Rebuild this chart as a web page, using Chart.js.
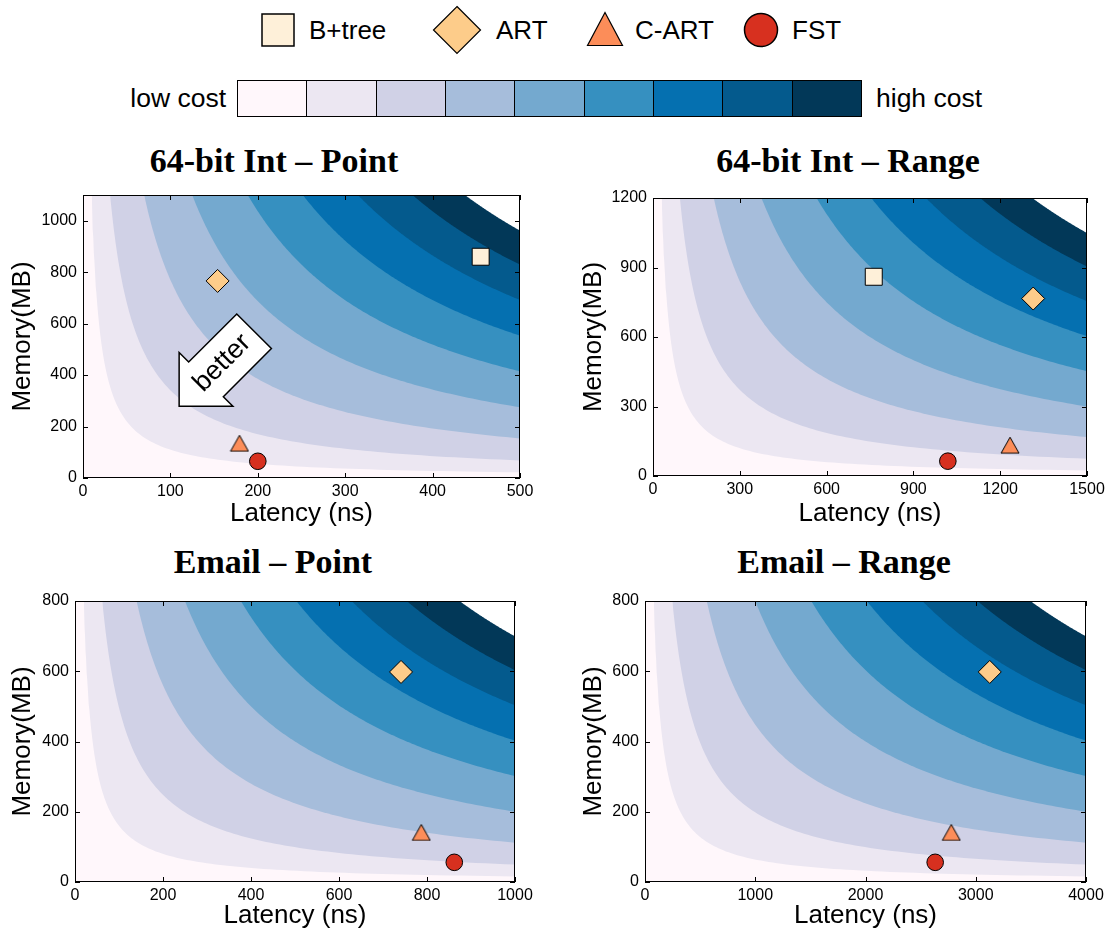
<!DOCTYPE html>
<html>
<head>
<meta charset="utf-8">
<title>Index structures: latency vs. memory cost</title>
<script src="https://cdn.jsdelivr.net/npm/chart.js@4.4.1/dist/chart.umd.min.js"></script>
<style>
  html, body { margin: 0; padding: 0; background: #fff; }
  #fig { position: relative; width: 1109px; height: 937px; overflow: hidden;
         font-family: "Liberation Sans", Arial, Helvetica, sans-serif; color: #000; }
  #fig canvas { position: absolute; }
  .title { position: absolute; transform: translateX(-50%); white-space: nowrap;
           font-family: "Liberation Serif", "Times New Roman", serif; font-weight: bold;
           font-size: 34px; line-height: 34px; }
  .glyph { position: absolute; display: block; }
  .keytext { position: absolute; white-space: nowrap; font-size: 26px; line-height: 26px; }
  #bar { position: absolute; left: 237px; top: 80px; width: 625px; height: 37px; display: flex;
         border: 1px solid #000; box-sizing: border-box; }
  #bar div { flex: 1; border-left: 1px solid #000; }
  #bar div:first-child { border-left: none; }
  .barlabel { position: absolute; top: 83px; font-size: 26.5px; line-height: 30px; white-space: nowrap; }
</style>
</head>
<body>
<div id="fig">
  <div id="bar"></div>
  <div class="barlabel" style="right:883px">low cost</div>
  <div class="barlabel" style="left:876px">high cost</div>
</div>
<script>
// ---------------------------------------------------------------
// Data
// ---------------------------------------------------------------
const structures = ['B+tree', 'ART', 'C-ART', 'FST'];

// 64-bit integer keys, point queries
const intPointLatency = [455, 154, 179, 200];      // ns
const intPointMemory  = [860, 766, 135, 65];       // MB
// 64-bit integer keys, range queries
const intRangeLatency = [763, 1314, 1234, 1019];
const intRangeMemory  = [860, 766, 133, 64];
// email keys, point queries (B+tree lies outside the plotted window)
const emailPointLatency = [null, 741, 787, 862];
const emailPointMemory  = [null, 598, 141, 56];
// email keys, range queries
const emailRangeLatency = [null, 3127, 2778, 2632];
const emailRangeMemory  = [null, 598, 141, 56];

// axis ticks and limits
const intPointXTicks   = [0, 100, 200, 300, 400, 500];
const intPointYTicks   = [0, 200, 400, 600, 800, 1000];
const intPointYMax     = 1100;
const intRangeXTicks   = [0, 300, 600, 900, 1200, 1500];
const intRangeYTicks   = [0, 300, 600, 900, 1200];
const emailPointXTicks = [0, 200, 400, 600, 800, 1000];
const emailPointYTicks = [0, 200, 400, 600, 800];
const emailRangeXTicks = [0, 1000, 2000, 3000, 4000];
const emailRangeYTicks = [0, 200, 400, 600, 800];

// cost = latency x memory; band edges as a share of the panel's
// largest cost (right-hand top corner of the plotted window)
const costLevels = [0.02, 0.062, 0.14, 0.25, 0.377, 0.503, 0.629, 0.754, 0.874];

// ---------------------------------------------------------------
// Styles
// ---------------------------------------------------------------
const baseColor  = '#fff7fb';
const bandColors = ['#ece7f2', '#d0d1e6', '#a6bddb', '#74a9cf', '#3690c0',
                    '#0570b0', '#045a8d', '#023858', '#ffffff'];
const scaleColors = ['#fff7fb', '#ece7f2', '#d0d1e6', '#a6bddb', '#74a9cf',
                     '#3690c0', '#0570b0', '#045a8d', '#023858'];
const markerColors = ['#fef0d9', '#fdcc8a', '#fc8d59', '#d7301f'];
const SANS = '"Liberation Sans", Arial, Helvetica, sans-serif';

function triangleGlyph(w, h, fill) {
  const c = document.createElement('canvas');
  c.width = w + 2; c.height = h + 2;
  const g = c.getContext('2d');
  g.beginPath();
  g.moveTo(1, h + 1); g.lineTo(w + 1, h + 1); g.lineTo(1 + w / 2, 1);
  g.closePath();
  g.fillStyle = fill; g.fill();
  g.lineWidth = 1; g.strokeStyle = '#000'; g.stroke();
  return c;
}
const markerStyles = ['rect', 'rectRot', triangleGlyph(18, 16, markerColors[2]), 'circle'];
const markerRadius = [12, 11.5, 10, 8.3];

// ---------------------------------------------------------------
// Header: marker key and cost scale
// ---------------------------------------------------------------
const fig = document.getElementById('fig');
const keyGlyphs = [
  { left: 261, top: 13, svg: '<svg width="34" height="34"><rect x="1" y="1" width="32" height="32" fill="COLOR" stroke="#000" stroke-width="1.5"/></svg>' },
  { left: 432, top: 5,  svg: '<svg width="50" height="50"><polygon points="25,1.5 48.5,25 25,48.5 1.5,25" fill="COLOR" stroke="#000" stroke-width="1.2"/></svg>' },
  { left: 586, top: 11, svg: '<svg width="38" height="36"><polygon points="19,1.5 36.5,34.5 1.5,34.5" fill="COLOR" stroke="#000" stroke-width="1.2"/></svg>' },
  { left: 743, top: 12, svg: '<svg width="36" height="36"><circle cx="18" cy="18" r="16.5" fill="COLOR" stroke="#000" stroke-width="1.5"/></svg>' }
];
const keyTextLeft = [309, 496, 635, 792];
structures.forEach((name, i) => {
  const g = document.createElement('div');
  g.className = 'glyph';
  g.style.left = keyGlyphs[i].left + 'px';
  g.style.top = keyGlyphs[i].top + 'px';
  g.innerHTML = keyGlyphs[i].svg.replace('COLOR', markerColors[i]);
  fig.appendChild(g);
  const t = document.createElement('div');
  t.className = 'keytext';
  t.style.left = keyTextLeft[i] + 'px';
  t.style.top = '17px';
  t.textContent = name;
  fig.appendChild(t);
});
const bar = document.getElementById('bar');
scaleColors.forEach(c => {
  const d = document.createElement('div');
  d.style.background = c;
  bar.appendChild(d);
});

// ---------------------------------------------------------------
// Plugins
// ---------------------------------------------------------------
// lowest-cost colour under every band
const plotBackground = {
  id: 'plotBackground',
  beforeDraw(chart) {
    const { ctx, chartArea: a } = chart;
    ctx.save();
    ctx.fillStyle = baseColor;
    ctx.fillRect(a.left, a.top, a.right - a.left, a.bottom - a.top);
    ctx.restore();
  }
};

// box frame with inward ticks on all four sides
const frameTicks = {
  id: 'frameTicks',
  afterDraw(chart) {
    const { ctx, chartArea: a, scales: { x, y } } = chart;
    const L = 5;
    ctx.save();
    ctx.strokeStyle = '#000';
    ctx.lineWidth = 1;
    ctx.beginPath();
    x.ticks.forEach(t => {
      const px = Math.round(x.getPixelForValue(t.value)) + 0.5;
      ctx.moveTo(px, a.bottom); ctx.lineTo(px, a.bottom - L);
      ctx.moveTo(px, a.top);    ctx.lineTo(px, a.top + L);
    });
    y.ticks.forEach(t => {
      const py = Math.round(y.getPixelForValue(t.value)) + 0.5;
      ctx.moveTo(a.left, py);  ctx.lineTo(a.left + L, py);
      ctx.moveTo(a.right, py); ctx.lineTo(a.right - L, py);
    });
    ctx.stroke();
    ctx.strokeRect(Math.round(a.left) + 0.5, Math.round(a.top) + 0.5,
                   Math.round(a.right - a.left) - 1, Math.round(a.bottom - a.top) - 1);
    ctx.restore();
  }
};

// white "better" arrow pointing towards low latency and low memory
const betterArrow = {
  id: 'betterArrow',
  afterDatasetsDraw(chart, args, o) {
    if (!o || !o.display) return;
    const { ctx, scales: { x, y } } = chart;
    const tx = x.getPixelForValue(o.tip[0]);
    const ty = y.getPixelForValue(o.tip[1]);
    const ux = Math.SQRT1_2, uy = -Math.SQRT1_2;   // tip -> tail
    const vx = Math.SQRT1_2, vy = Math.SQRT1_2;    // across the shaft
    const P = (a, b) => [tx + ux * a + vx * b, ty + uy * a + vy * b];
    const H = o.headLength, HW = o.headHalfWidth, SW = o.shaftHalfWidth, LEN = o.length;
    const pts = [P(0, 0), P(H, -HW), P(H, -SW), P(LEN, -SW), P(LEN, SW), P(H, SW), P(H, HW)];
    ctx.save();
    ctx.beginPath();
    pts.forEach((p, i) => i ? ctx.lineTo(p[0], p[1]) : ctx.moveTo(p[0], p[1]));
    ctx.closePath();
    ctx.fillStyle = '#fff';
    ctx.fill();
    ctx.lineWidth = 1.5;
    ctx.strokeStyle = '#000';
    ctx.lineJoin = 'miter';
    ctx.stroke();
    const c = P(o.textAt, 0);
    ctx.translate(c[0], c[1]);
    ctx.rotate(-Math.PI / 4);
    ctx.fillStyle = '#000';
    ctx.font = o.fontSize + 'px ' + SANS;
    ctx.textAlign = 'center';
    ctx.textBaseline = 'middle';
    ctx.fillText(o.text, 0, 0);
    ctx.restore();
  }
};

// ---------------------------------------------------------------
// Datasets
// ---------------------------------------------------------------
// One filled region per cost band: the iso-cost boundary
// latency * memory = level, filled up to the top of the window.
function bandDatasets(xMax, yMax) {
  const maxCost = xMax * yMax;
  return costLevels.map((share, k) => {
    const cost = share * maxCost;
    const xStart = cost / yMax;           // where the boundary meets the top edge
    const pts = [];
    const n = 120;
    for (let i = 0; i <= n; i++) {
      const lat = xStart * Math.pow(xMax / xStart, i / n);
      pts.push({ x: lat, y: cost / lat });
    }
    return {
      label: 'cost ' + share,
      data: pts,
      borderWidth: 0,
      pointRadius: 0,
      tension: 0,
      fill: 'end',
      backgroundColor: bandColors[k],
      order: 100 - k
    };
  });
}

function markerDatasets(lat, mem) {
  return structures.map((name, i) => ({
    label: name,
    showLine: false,
    data: lat[i] == null ? [] : [{ x: lat[i], y: mem[i] }],
    pointStyle: markerStyles[i],
    pointRadius: markerRadius[i],
    pointBackgroundColor: markerColors[i],
    pointBorderColor: '#000',
    pointBorderWidth: 1,
    order: 0
  }));
}

// ---------------------------------------------------------------
// Panels
// ---------------------------------------------------------------
const panels = [
  { title: '64-bit Int – Point', titleX: 274, titleTop: 144,
    box: { x: 0, y: 140, w: 554, h: 400 }, area: { l: 83, t: 195, r: 520, b: 478 },
    xMax: 500, yMax: intPointYMax, xTicks: intPointXTicks, yTicks: intPointYTicks,
    lat: intPointLatency, mem: intPointMemory, yTitleX: 23, xTitleY: 514,
    arrow: { display: true, tip: [110, 279], headLength: 38, headHalfWidth: 38,
             shaftHalfWidth: 24.5, length: 106, text: 'better', textAt: 61, fontSize: 27 } },
  { title: '64-bit Int – Range', titleX: 848, titleTop: 144,
    box: { x: 560, y: 140, w: 549, h: 400 }, area: { l: 653, t: 198, r: 1087, b: 476 },
    xMax: 1500, yMax: 1200, xTicks: intRangeXTicks, yTicks: intRangeYTicks,
    lat: intRangeLatency, mem: intRangeMemory, yTitleX: 594, xTitleY: 514 },
  { title: 'Email – Point', titleX: 273, titleTop: 545,
    box: { x: 0, y: 540, w: 554, h: 397 }, area: { l: 75, t: 601, r: 515, b: 882 },
    xMax: 1000, yMax: 800, xTicks: emailPointXTicks, yTicks: emailPointYTicks,
    lat: emailPointLatency, mem: emailPointMemory, yTitleX: 23, xTitleY: 916 },
  { title: 'Email – Range', titleX: 844, titleTop: 545,
    box: { x: 560, y: 540, w: 549, h: 397 }, area: { l: 645, t: 601, r: 1086, b: 882 },
    xMax: 4000, yMax: 800, xTicks: emailRangeXTicks, yTicks: emailRangeYTicks,
    lat: emailRangeLatency, mem: emailRangeMemory, yTitleX: 594, xTitleY: 916 }
];

const TICK_FONT = { family: SANS, size: 16 };
const LABEL_FONT = { family: SANS, size: 26, lineHeight: 1.2 };
const LABEL_HALF = 26 * 1.2 / 2;
const plainNumber = v => String(v);

panels.forEach(p => {
  const t = document.createElement('div');
  t.className = 'title';
  t.style.left = p.titleX + 'px';
  t.style.top = p.titleTop + 'px';
  t.textContent = p.title;
  fig.appendChild(t);

  const cv = document.createElement('canvas');
  cv.width = p.box.w; cv.height = p.box.h;
  cv.style.left = p.box.x + 'px'; cv.style.top = p.box.y + 'px';
  cv.style.width = p.box.w + 'px'; cv.style.height = p.box.h + 'px';
  fig.appendChild(cv);

  const yAxisWidth = p.area.l - p.box.x;
  const xAxisHeight = p.box.y + p.box.h - p.area.b;

  new Chart(cv, {
    type: 'line',
    data: { datasets: [...bandDatasets(p.xMax, p.yMax), ...markerDatasets(p.lat, p.mem)] },
    options: {
      responsive: false,
      animation: false,
      events: [],
      layout: { padding: { left: 0, top: p.area.t - p.box.y, right: p.box.x + p.box.w - p.area.r, bottom: 0 } },
      plugins: {
        legend: { display: false },
        tooltip: { enabled: false },
        title: { display: false },
        betterArrow: p.arrow || { display: false }
      },
      scales: {
        x: {
          type: 'linear', min: 0, max: p.xMax,
          afterBuildTicks: s => { s.ticks = p.xTicks.map(v => ({ value: v })); },
          afterFit: s => { s.height = xAxisHeight; },
          grid: { display: false, drawTicks: false },
          border: { display: false },
          ticks: { color: '#000', font: TICK_FONT, padding: 4, maxRotation: 0, autoSkip: false,
                   callback: plainNumber },
          title: { display: true, text: 'Latency (ns)', color: '#000', font: LABEL_FONT,
                   padding: { top: 0, bottom: p.box.y + p.box.h - p.xTitleY - LABEL_HALF } }
        },
        y: {
          type: 'linear', min: 0, max: p.yMax,
          afterBuildTicks: s => { s.ticks = p.yTicks.map(v => ({ value: v })); },
          afterFit: s => { s.width = yAxisWidth; },
          grid: { display: false, drawTicks: false },
          border: { display: false },
          ticks: { color: '#000', font: TICK_FONT, padding: 6, autoSkip: false,
                   callback: plainNumber },
          title: { display: true, text: 'Memory(MB)', color: '#000', font: LABEL_FONT,
                   padding: { top: p.yTitleX - p.box.x - LABEL_HALF, bottom: 0 } }
        }
      }
    },
    plugins: [plotBackground, frameTicks, betterArrow]
  });
});
</script>
</body>
</html>
